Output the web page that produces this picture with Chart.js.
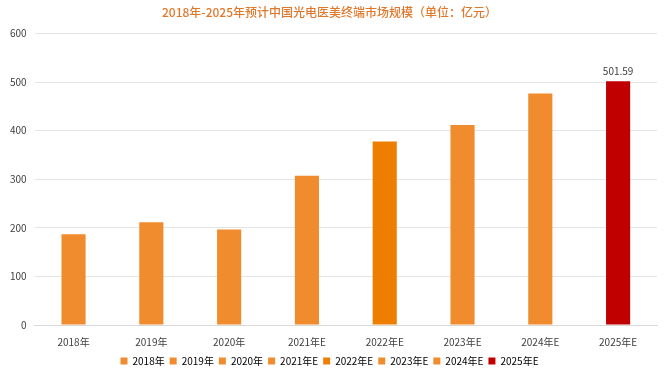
<!DOCTYPE html>
<html>
<head>
<meta charset="utf-8">
<script src="https://cdn.jsdelivr.net/npm/chart.js@4/dist/chart.umd.min.js"></script>
<style>
  html, body { margin: 0; padding: 0; background: #fff; }
  #wrap { width: 665px; height: 392px; }
</style>
</head>
<body>
<div id="wrap"><canvas id="myChart" width="665" height="392"></canvas></div>
<script>
const years = ['2018年', '2019年', '2020年', '2021年E', '2022年E', '2023年E', '2024年E', '2025年E'];
const marketSize = [186.5, 211.5, 196.5, 307, 377.5, 411.5, 476.5, 501.59];
const barColors = ['#F08C2E', '#F08C2E', '#F08C2E', '#F08C2E', '#EE7E00', '#F08C2E', '#F08C2E', '#C00000'];
const labelledValue = '501.59';

const font = '"Noto Sans CJK SC", "Noto Sans", sans-serif';

// draws the value above the last bar
const valueLabel = {
  id: 'valueLabel',
  afterDatasetsDraw(chart) {
    const ctx = chart.ctx;
    const bar = chart.getDatasetMeta(0).data[years.length - 1];
    ctx.save();
    ctx.font = '10px ' + font;
    ctx.fillStyle = '#404040';
    ctx.textAlign = 'center';
    ctx.textBaseline = 'bottom';
    ctx.fillText(labelledValue, bar.x, bar.y - 5);
    ctx.restore();
  },
};

const ctx = document.getElementById('myChart').getContext('2d');
const chart = new Chart(ctx, {
  type: 'bar',
  data: {
    labels: years,
    datasets: [{
      label: '市场规模',
      data: marketSize,
      backgroundColor: barColors,
      borderWidth: 0,
      barPercentage: 0.31,
      categoryPercentage: 1,
    }],
  },
  options: {
    responsive: false,
    animation: false,
    layout: { padding: { left: 2, right: 8, top: 1, bottom: 16 } },
    plugins: {
      title: {
        display: true,
        text: '2018年-2025年预计中国光电医美终端市场规模（单位：亿元）',
        color: '#E0782C',
        font: { family: font, size: 12, weight: '500' },
        padding: { top: 4, bottom: 14 },
      },
      legend: {
        position: 'bottom',
        labels: {
          boxWidth: 7,
          boxHeight: 7,
          padding: 5,
          color: '#404040',
          font: { family: font, size: 10 },
          generateLabels: () => years.map((y, i) => ({
            text: y,
            fillStyle: barColors[i],
            strokeStyle: barColors[i],
            lineWidth: 0,
            hidden: false,
            index: i,
          })),
        },
      },
      tooltip: { enabled: false },
    },
    scales: {
      x: {
        grid: { display: false },
        border: { color: '#D9D9D9' },
        ticks: { color: '#404040', font: { family: font, size: 10 }, padding: 3 },
      },
      y: {
        min: 0,
        max: 600,
        ticks: { stepSize: 100, color: '#404040', font: { family: font, size: 10 }, padding: 8 },
        grid: { color: '#E4E4E4', drawTicks: false },
        border: { display: false },
      },
    },
  },
  plugins: [valueLabel],
});
</script>
</body>
</html>
